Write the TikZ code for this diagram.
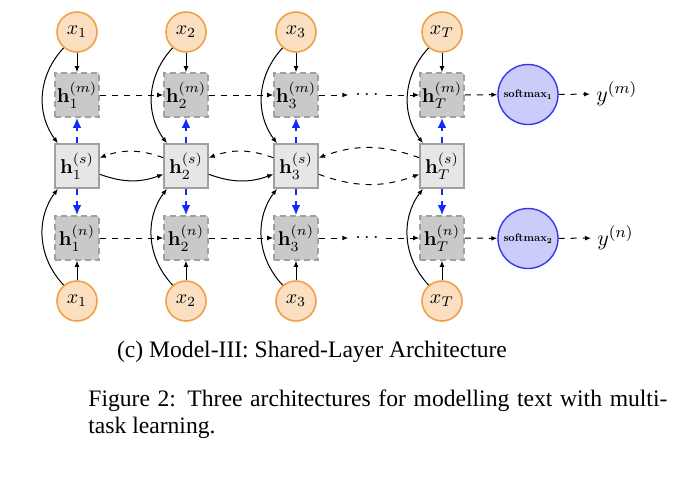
\documentclass[tikz,border=0pt]{standalone}
\usepackage[no-math]{fontspec}
\usepackage{graphicx}
\setmainfont{Liberation Serif}
\usetikzlibrary{arrows.meta}
\definecolor{xfill}{RGB}{250,223,193}
\definecolor{xdraw}{RGB}{241,160,72}
\definecolor{smfill}{RGB}{204,204,250}
\definecolor{smdraw}{RGB}{55,55,240}
\definecolor{mfill}{RGB}{201,201,201}
\definecolor{sfill}{RGB}{230,230,230}
\definecolor{bdraw}{RGB}{160,160,160}
\definecolor{barrow}{RGB}{20,40,250}
\newcommand{\smlabel}[1]{\resizebox{24.5pt}{!}{$\mathbf{softmax_{#1}}$}}
\tikzset{
  xc/.style={circle, draw=xdraw, fill=xfill, line width=0.8pt, minimum size=20pt, inner sep=0pt, font=\fontsize{10}{12}\selectfont},
  hmbox/.style={rectangle, draw=bdraw, fill=mfill, line width=0.8pt, densely dashed, minimum size=22pt, inner sep=0pt, font=\fontsize{10}{12}\selectfont},
  hsbox/.style={rectangle, draw=bdraw, fill=sfill, line width=0.8pt, minimum size=22pt, inner sep=0pt, font=\fontsize{10}{12}\selectfont},
  smc/.style={circle, draw=smdraw, fill=smfill, line width=0.7pt, minimum size=30pt, inner sep=0pt},
  dotnode/.style={inner sep=3.3pt, font=\fontsize{10}{12}\selectfont},
  ylab/.style={inner sep=3pt, font=\fontsize{11}{13}\selectfont},
  arr/.style={line width=0.5pt, -{Latex[length=3pt,width=2.4pt]}},
  darr/.style={arr, dashed},
  barr/.style={draw=barrow, line width=1.4pt, dashed, -{Latex[length=5pt,width=4.4pt]}},
  captext/.style={inner sep=0pt, font=\fontsize{11.8}{13.6}\selectfont}
}
\begin{document}
\begin{tikzpicture}[x=0.5pt,y=0.5pt]
\useasboundingbox (0,0) rectangle (686,-478);
% columns
\foreach \c/\xx/\lab in {1/77/1, 2/186/2, 3/296/3, T/442/T}{
  \node[xc] (xt\c) at (\xx,-32) {$x_{\lab}$};
  \node[hmbox] (m\c) at (\xx,-95) {$\mathbf{h}_{\lab}^{(m)}$};
  \node[hsbox] (s\c) at (\xx,-166) {$\mathbf{h}_{\lab}^{(s)}$};
  \node[hmbox] (n\c) at (\xx,-238) {$\mathbf{h}_{\lab}^{(n)}$};
  \node[xc] (xb\c) at (\xx,-301) {$x_{\lab}$};
}
\node[dotnode] (md) at (367,-95) {$\cdots$};
\node[dotnode] (nd) at (367,-238) {$\cdots$};
\node[smc] (sm1) at (528,-94.5) {\smlabel{1}};
\node[smc] (sm2) at (528,-238.5) {\smlabel{2}};
\node[ylab, anchor=west] (ym) at (590,-94) {$y^{(m)}$};
\node[ylab, anchor=west] (yn) at (591,-238) {$y^{(n)}$};
% vertical connections
\foreach \c in {1,2,3,T}{
  \draw[arr] (xt\c) -- (m\c);
  \draw[arr] (xt\c) to[bend right=40] (s\c);
  \draw[arr] (xb\c) -- (n\c);
  \draw[arr] (xb\c) to[bend left=40] (s\c);
  \draw[barr] (s\c) -- (m\c);
  \draw[barr] (s\c) -- (n\c);
}
% horizontal dashed chains
\draw[darr] (m1) -- (m2);
\draw[darr] (m2) -- (m3);
\draw[darr] (m3) -- (md);
\draw[darr] (md) -- (mT);
\draw[darr] (mT) -- (sm1);
\draw[darr] (sm1) -- (ym);
\draw[darr] (n1) -- (n2);
\draw[darr] (n2) -- (n3);
\draw[darr] (n3) -- (nd);
\draw[darr] (nd) -- (nT);
\draw[darr] (nT) -- (sm2);
\draw[darr] (sm2) -- (yn);
% shared layer
\draw[arr] (s1) to[bend right=20] (s2);
\draw[darr] (s2) to[bend right=20] (s1);
\draw[arr] (s2) to[bend right=20] (s3);
\draw[darr] (s3) to[bend right=20] (s2);
\draw[darr] (s3) to[bend right=20] (sT);
\draw[darr] (sT) to[bend right=20] (s3);
% captions
\node[captext] (cap) at (312,-352) {(c) Model-III: Shared-Layer Architecture};
\node[captext, anchor=north west, text width=289.5pt, align=justify] (fig) at (88,-389) {Figure 2: Three architectures for modelling text with multi-\linebreak task learning.};
\end{tikzpicture}
\end{document}
